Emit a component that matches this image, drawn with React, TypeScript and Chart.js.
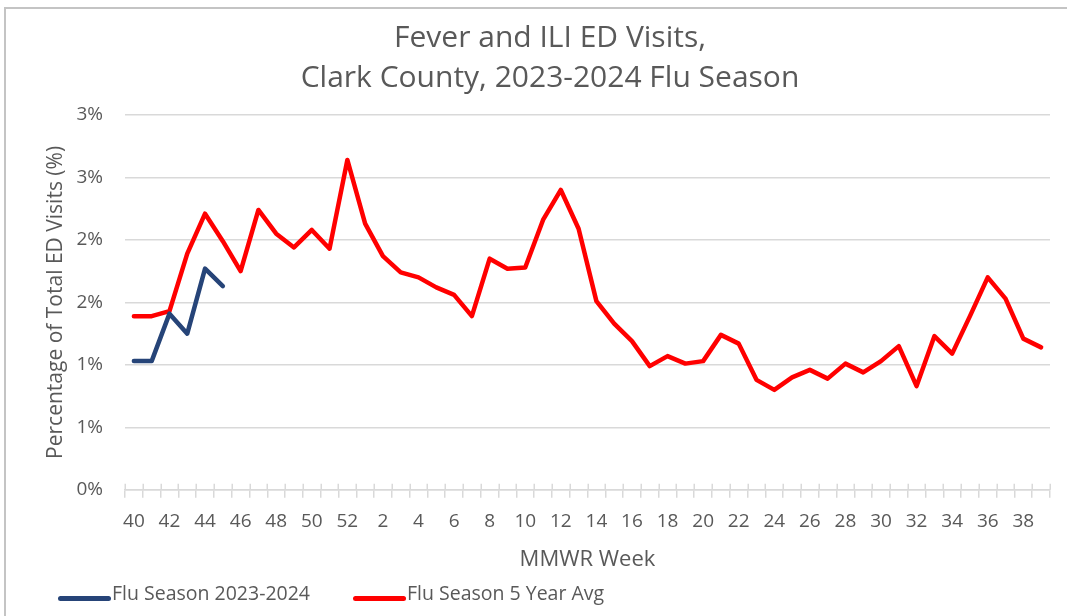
import { useEffect, useRef } from 'react';
import { Chart, registerables } from 'chart.js';

Chart.register(...registerables);

const weeks = [
  '40', '41', '42', '43', '44', '45', '46', '47', '48', '49', '50', '51', '52',
  '1', '2', '3', '4', '5', '6', '7', '8', '9', '10', '11', '12', '13', '14', '15',
  '16', '17', '18', '19', '20', '21', '22', '23', '24', '25', '26', '27', '28', '29',
  '30', '31', '32', '33', '34', '35', '36', '37', '38', '39',
];

const season2023_2024 = [1.03, 1.03, 1.41, 1.25, 1.77, 1.63];

const fiveYearAvg = [
  1.39, 1.39, 1.43, 1.89, 2.21, 1.99, 1.75, 2.24, 2.05, 1.94, 2.08, 1.93, 2.64,
  2.13, 1.87, 1.74, 1.7, 1.62, 1.56, 1.39, 1.85, 1.77, 1.78, 2.16, 2.4, 2.09, 1.51,
  1.33, 1.19, 0.99, 1.07, 1.01, 1.03, 1.24, 1.17, 0.88, 0.8, 0.9, 0.96, 0.89, 1.01,
  0.94, 1.03, 1.15, 0.83, 1.23, 1.09, 1.39, 1.7, 1.53, 1.21, 1.14,
];

const yTickLabels = ['0%', '1%', '1%', '2%', '2%', '3%', '3%'];

const titleLines = ['Fever and ILI ED Visits,', 'Clark County, 2023-2024 Flu Season'];
const seriesNames = ['Flu Season 2023-2024', 'Flu Season 5 Year Avg'];
const yAxisTitle = 'Percentage of Total ED Visits (%)';
const xAxisTitle = 'MMWR Week';

const TEXT = '#595959';
const GRID = '#d9d9d9';
const FONT = '"Open Sans", sans-serif';

// Tick marks that cross the category axis (the part above the axis line)
const crossTicks = {
  id: 'crossTicks',
  beforeDatasetsDraw(chart: any) {
    const xs = chart.scales.x;
    const ctx = chart.ctx as CanvasRenderingContext2D;
    const yb = chart.chartArea.bottom;
    ctx.save();
    ctx.strokeStyle = GRID;
    ctx.lineWidth = 1.5;
    ctx.beginPath();
    for (let i = 0; i <= weeks.length; i++) {
      const px = Math.round(xs.getPixelForValue(i - 0.5)) + 0.25;
      ctx.moveTo(px, yb - 6);
      ctx.lineTo(px, yb);
    }
    ctx.stroke();
    ctx.restore();
  },
};

const bottomLegend = {
  id: 'bottomLegend',
  afterDraw(chart: any) {
    const ctx = chart.ctx as CanvasRenderingContext2D;
    ctx.save();
    ctx.font = `19.5px ${FONT}`;
    ctx.textAlign = 'left';
    ctx.textBaseline = 'alphabetic';
    let x = 58;
    const y = 600;
    chart.data.datasets.forEach((ds: any) => {
      ctx.strokeStyle = ds.borderColor;
      ctx.lineWidth = 5;
      ctx.lineCap = 'round';
      ctx.beginPath();
      ctx.moveTo(x + 2.5, y - 1.5);
      ctx.lineTo(x + 50.5, y - 1.5);
      ctx.stroke();
      ctx.fillStyle = TEXT;
      const tx = x + 54;
      ctx.fillText(ds.label, tx, y);
      x = tx + ctx.measureText(ds.label).width + 43;
    });
    ctx.restore();
  },
};

export default function App() {
  const canvasRef = useRef<HTMLCanvasElement | null>(null);

  useEffect(() => {
    if (!canvasRef.current) return;
    const chart = new Chart(canvasRef.current, {
      type: 'line',
      data: {
        labels: weeks,
        datasets: [
          {
            label: seriesNames[0],
            data: season2023_2024,
            borderColor: '#264478',
            backgroundColor: '#264478',
            borderWidth: 4.5,
            pointRadius: 0,
            tension: 0,
            borderJoinStyle: 'round',
            borderCapStyle: 'round',
            yAxisID: 'y',
          },
          {
            label: seriesNames[1],
            data: fiveYearAvg,
            borderColor: '#ff0000',
            backgroundColor: '#ff0000',
            borderWidth: 4.5,
            pointRadius: 0,
            tension: 0,
            borderJoinStyle: 'round',
            borderCapStyle: 'round',
            yAxisID: 'y',
          },
        ],
      },
      options: {
        animation: false,
        responsive: false,
        maintainAspectRatio: false,
        layout: { padding: { left: 33, right: 0, top: 0, bottom: 43 } },
        plugins: {
          legend: { display: false },
          tooltip: { enabled: false },
          title: {
            display: true,
            text: titleLines,
            color: TEXT,
            font: { family: FONT, size: 30, weight: 'normal', lineHeight: 40 / 30 },
            padding: { top: 18, bottom: 17 },
          },
        },
        scales: {
          x: {
            type: 'category',
            offset: true,
            grid: {
              display: true,
              offset: true,
              drawOnChartArea: false,
              drawTicks: true,
              tickLength: 8,
              color: GRID,
              lineWidth: 1.5,
            },
            border: { display: true, color: GRID, width: 1.5 },
            ticks: {
              autoSkip: false,
              maxRotation: 0,
              minRotation: 0,
              padding: 12,
              color: TEXT,
              font: { family: FONT, size: 19 },
              callback: (_v: any, i: number) => (i % 2 === 0 ? weeks[i] : ''),
            },
            title: {
              display: true,
              text: xAxisTitle,
              color: TEXT,
              font: { family: FONT, size: 22 },
              padding: { top: 2, bottom: 0 },
            },
          },
          y: {
            type: 'linear',
            position: 'left',
            min: 0,
            max: 3,
            grid: { color: GRID, lineWidth: 1.5, drawTicks: false },
            border: { display: false },
            ticks: {
              stepSize: 0.5,
              padding: 22,
              color: TEXT,
              font: { family: FONT, size: 19 },
              callback: (_v: any, i: number) => yTickLabels[i],
            },
            title: {
              display: true,
              text: yAxisTitle,
              color: TEXT,
              font: { family: FONT, size: 21 },
              padding: { top: 10, bottom: 0 },
            },
            afterFit: (s: any) => {
              s.width = 92;
            },
          },
          yRight: {
            type: 'linear',
            position: 'right',
            display: true,
            grid: { display: false, drawTicks: false },
            border: { display: false },
            ticks: { display: false },
            afterFit: (s: any) => {
              s.width = 17;
            },
          },
        },
      },
      plugins: [crossTicks, bottomLegend],
    } as any);
    return () => chart.destroy();
  }, []);

  return (
    <div style={{ position: 'absolute', left: 0, top: 0, width: 1067, height: 616, overflow: 'hidden', background: '#fff' }}>
      <div
        style={{
          position: 'absolute',
          left: 4,
          top: 7,
          width: 1200,
          height: 800,
          borderLeft: '2px solid #c4c4c4',
          borderTop: '2px solid #c4c4c4',
        }}
      />
      <canvas ref={canvasRef} width={1067} height={616} style={{ position: 'absolute', left: 0, top: 0, width: 1067, height: 616 }} />
    </div>
  );
}
